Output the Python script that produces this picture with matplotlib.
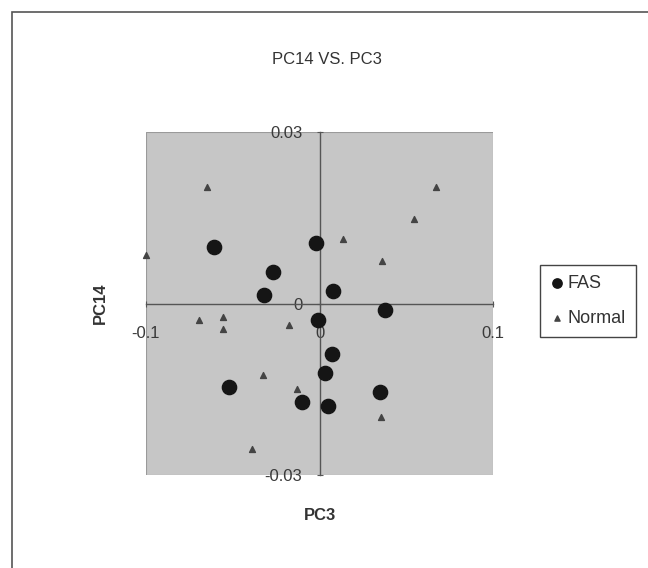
import matplotlib.pyplot as plt
from matplotlib.patches import Rectangle

plt.rcParams['font.family'] = ['Liberation Sans', 'DejaVu Sans']

# --- data ---
fas_x = [-0.061, -0.027, -0.032, -0.002, 0.008, 0.038, -0.001, 0.007, 0.003, 0.035, 0.005, -0.010, -0.052]
fas_y = [0.0099, 0.0055, 0.0014, 0.0105, 0.0022, -0.0011, -0.0028, -0.0089, -0.0121, -0.0155, -0.0180, -0.0173, -0.0146]

normal_x = [-0.065, -0.100, 0.067, 0.0545, 0.0134, 0.0358, -0.0693, -0.0558, -0.0558, -0.0174, -0.0324, -0.0131, -0.0391, 0.0354]
normal_y = [0.0204, 0.0085, 0.0204, 0.0148, 0.0113, 0.0075, -0.0029, -0.0023, -0.0045, -0.0038, -0.0125, -0.0150, -0.0255, -0.0199]

x_ticks = [-0.1, 0, 0.1]
x_labels = ['-0.1', '0', '0.1']
y_ticks = [-0.03, 0, 0.03]
y_labels = ['-0.03', '0', '0.03']

fig = plt.figure(figsize=(6.48, 5.68), dpi=100)
ax = fig.add_axes([146 / 648, 1 - 475 / 568, 347 / 648, 343 / 568])
ax.set_facecolor('#c6c6c6')

ax.scatter(fas_x, fas_y, s=105, marker='o', color='#151515', label='FAS', zorder=3, clip_on=False)
ax.scatter(normal_x, normal_y, s=18, marker='^', color='#444444', label='Normal', zorder=3, clip_on=False)

ax.set_xlim(-0.1, 0.1)
ax.set_ylim(-0.03, 0.03)

# axes cross in the middle, Excel style
ax.spines['left'].set_position('zero')
ax.spines['bottom'].set_position('zero')
ax.spines['top'].set_visible(False)
ax.spines['right'].set_visible(False)
for s in ['left', 'bottom']:
    ax.spines[s].set_color('#555555')
    ax.spines[s].set_linewidth(1.0)
ax.add_patch(Rectangle((0, 0), 1, 1, transform=ax.transAxes, fill=False,
                       edgecolor='#9a9a9a', linewidth=0.8, zorder=1))

ax.set_xticks(x_ticks)
ax.set_xticklabels(x_labels)
ax.set_yticks(y_ticks)
ax.set_yticklabels(y_labels)
ax.tick_params(axis='x', direction='inout', length=5, pad=14, labelsize=12, colors='#555555', labelcolor='#3a3a3a')
ax.tick_params(axis='y', direction='inout', length=5, pad=10, labelsize=12, colors='#555555', labelcolor='#3a3a3a')

fig.text(320 / 648, 1 - 515 / 568, 'PC3', ha='center', va='center', fontsize=12, fontweight='bold', color='#333333')
fig.text(100 / 648, 1 - 303 / 568, 'PC14', ha='center', va='center', rotation=90, fontsize=12, fontweight='bold', color='#333333')
fig.text(327 / 648, 1 - 60 / 568, 'PC14 VS. PC3', ha='center', va='center', fontsize=12, color='#333333')

leg = fig.legend(loc='upper left', bbox_to_anchor=(540 / 648, 1 - 265 / 568), fontsize=13,
                 frameon=True, fancybox=False, edgecolor='#444444', framealpha=1, borderaxespad=0,
                 handletextpad=0.2, handlelength=0.8, labelspacing=1.0, borderpad=0.55, labelcolor='#333333')
leg.legend_handles[0].set_sizes([45])
leg.legend_handles[1].set_sizes([14])

# outer chart frame
fig.patches.append(Rectangle((12 / 648, -0.05), 1.2, 1 - 12 / 568 + 0.05, transform=fig.transFigure,
                             fill=False, edgecolor='#555555', linewidth=1.2))

fig.savefig('out.png', dpi=100)
